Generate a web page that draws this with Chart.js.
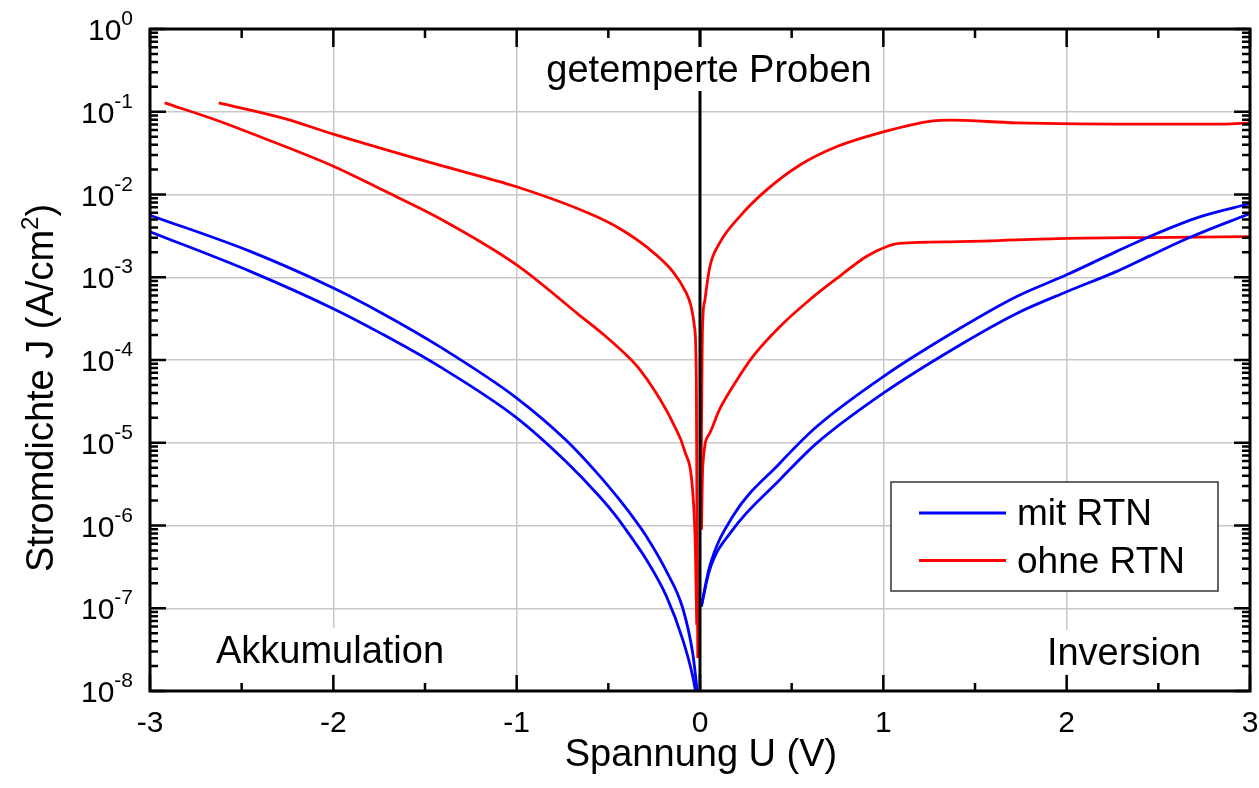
<!DOCTYPE html>
<html><head><meta charset="utf-8">
<script src="https://cdn.jsdelivr.net/npm/chart.js@4.4.1/dist/chart.umd.min.js"></script>
<style>html,body{margin:0;padding:0;background:#fff}canvas{display:block}</style>
</head><body>
<canvas id="c" width="1259" height="788" style="width:1259px;height:788px"></canvas>
<script>
// ---------- data (Spannung U in V, Stromdichte J in A/cm^2) ----------
const seriesNames = ['mit RTN', 'ohne RTN'];
const seriesColors = ['#0000ff', '#ff0000'];

// mit RTN, sample A (upper blue)
const uMitA_neg = [-3, -2.45, -2, -1.73, -1.42, -1, -0.73, -0.548, -0.457, -0.366, -0.293, -0.184, -0.094, -0.039, -0.015];
const jMitA_neg = [5.62e-3, 2.04e-3, 7.41e-4, 3.63e-4, 1.45e-4, 3.47e-5, 1.07e-5, 3.98e-6, 2.29e-6, 1.26e-6, 7.41e-7, 2.82e-7, 1.0e-7, 2.8e-8, 1.0e-8];
const uMitA_pos = [0.007, 0.052, 0.179, 0.434, 0.634, 1, 1.416, 1.725, 2, 2.27, 2.45, 2.725, 3];
const jMitA_pos = [1.05e-7, 3.16e-7, 1.29e-6, 5.62e-6, 1.55e-5, 6.31e-5, 2.40e-4, 5.82e-4, 1.07e-3, 2.04e-3, 3.09e-3, 5.37e-3, 7.76e-3];

// mit RTN, sample B (lower blue)
const uMitB_neg = [-3, -2.45, -2, -1.73, -1.42, -1, -0.73, -0.548, -0.457, -0.366, -0.293, -0.184, -0.094, -0.039, -0.025];
const jMitB_neg = [3.55e-3, 1.17e-3, 4.17e-4, 2.04e-4, 8.32e-5, 2.0e-5, 5.89e-6, 2.24e-6, 1.29e-6, 6.76e-7, 3.89e-7, 1.41e-7, 4.17e-8, 1.48e-8, 1.0e-8];
const uMitB_pos = [0.007, 0.052, 0.179, 0.434, 0.634, 1, 1.416, 1.725, 2, 2.27, 2.45, 2.67, 3];
const jMitB_pos = [1.05e-7, 2.88e-7, 8.91e-7, 3.55e-6, 9.77e-6, 3.98e-5, 1.51e-4, 3.63e-4, 6.68e-4, 1.17e-3, 1.80e-3, 3.02e-3, 5.89e-3];

// ohne RTN, sample A (upper red)
const uOhneA_neg = [-2.625, -2.27, -2, -1.42, -1, -0.603, -0.439, -0.293, -0.148, -0.075, -0.03, -0.02, -0.016, -0.012];
const jOhneA_neg = [0.128, 0.0832, 0.0537, 0.0226, 0.0124, 5.89e-3, 3.89e-3, 2.34e-3, 1.17e-3, 6.46e-4, 2.51e-4, 5.75e-5, 5.62e-7, 2.5e-8];
const uOhneA_pos = [0.004, 0.012, 0.016, 0.027, 0.054, 0.106, 0.215, 0.36, 0.543, 0.725, 1, 1.27, 1.36, 1.725, 2.5, 2.85, 3];
const jOhneA_pos = [1.0e-6, 1.5e-4, 3.31e-4, 5.37e-4, 1.35e-3, 2.57e-3, 5.37e-3, 0.0112, 0.0226, 0.0363, 0.0571, 0.0776, 0.0794, 0.0735, 0.0710, 0.0710, 0.0735];

// ohne RTN, sample B (lower red)
const uOhneB_neg = [-2.92, -2.64, -2.45, -2, -1.73, -1.42, -1, -0.657, -0.512, -0.384, -0.33, -0.239, -0.148, -0.085, -0.039, -0.025, -0.018];
const jOhneB_neg = [0.128, 0.0794, 0.055, 0.022, 0.0113, 5.13e-3, 1.41e-3, 3.47e-4, 1.91e-4, 1.05e-4, 7.76e-5, 3.98e-5, 1.74e-5, 8.13e-6, 2.45e-6, 5.13e-7, 6.3e-8];
const uOhneB_pos = [0.008, 0.015, 0.052, 0.106, 0.179, 0.288, 0.434, 0.597, 0.76, 0.907, 1.016, 1.088, 1.416, 2, 2.45, 3];
const jOhneB_pos = [8.9e-7, 5.13e-6, 1.29e-5, 2.51e-5, 4.79e-5, 1.10e-4, 2.51e-4, 5.31e-4, 1.02e-3, 1.78e-3, 2.34e-3, 2.57e-3, 2.69e-3, 2.95e-3, 3.02e-3, 3.09e-3];

// vertical marker at U = 0
const uZeroLine = [0, 0];
const jZeroLine = [1e-8, 1];

// axes
const xTickValues = [-3, -2, -1, 0, 1, 2, 3];
const xTickLabels = ['-3', '-2', '-1', '0', '1', '2', '3'];
const xMinorValues = [-2.5, -1.5, -0.5, 0.5, 1.5, 2.5];
const yTickExponents = [0, -1, -2, -3, -4, -5, -6, -7, -8];
const xTitle = 'Spannung U (V)';
const yTitleMain = 'Stromdichte J (A/cm';
const yTitleSup = '2';
const yTitleEnd = ')';
const annTop = 'getemperte Proben';
const annLeft = 'Akkumulation';
const annRight = 'Inversion';

// ---------- chart ----------
const FONT = '"Liberation Sans", Arial, Helvetica, sans-serif';
const pts = (u, j) => u.map((x, i) => ({x: x, y: j[i]}));
const yDecades = yTickExponents.map(e => Math.pow(10, e));

function lineDs(label, u, j, color, w) {
  return {label: label, data: pts(u, j), borderColor: color, backgroundColor: color,
          borderWidth: w, pointRadius: 0, fill: false, cubicInterpolationMode: 'monotone'};
}

const LW = 2.8;
const datasets = [
  lineDs('U = 0', uZeroLine, jZeroLine, '#000000', 3),
  lineDs(seriesNames[0], uMitA_neg, jMitA_neg, seriesColors[0], LW),
  lineDs(seriesNames[0], uMitA_pos, jMitA_pos, seriesColors[0], LW),
  lineDs(seriesNames[0], uMitB_neg, jMitB_neg, seriesColors[0], LW),
  lineDs(seriesNames[0], uMitB_pos, jMitB_pos, seriesColors[0], LW),
  lineDs(seriesNames[1], uOhneA_neg, jOhneA_neg, seriesColors[1], LW),
  lineDs(seriesNames[1], uOhneA_pos, jOhneA_pos, seriesColors[1], LW),
  lineDs(seriesNames[1], uOhneB_neg, jOhneB_neg, seriesColors[1], LW),
  lineDs(seriesNames[1], uOhneB_pos, jOhneB_pos, seriesColors[1], LW)
];

function boxedText(ctx, text, cx, base, padTop, padBottom) {
  const w = ctx.measureText(text).width;
  ctx.fillStyle = '#ffffff';
  ctx.fillRect(cx - w / 2 - 6, base - padTop, w + 12, padTop + padBottom);
  ctx.fillStyle = '#000000';
  ctx.fillText(text, cx - w / 2, base);
}

const deco = {
  id: 'deco',
  afterDatasetsDraw(chart) {
    const ctx = chart.ctx, a = chart.chartArea;
    ctx.save();
    ctx.textBaseline = 'alphabetic';
    ctx.textAlign = 'left';
    ctx.font = '38px ' + FONT;
    boxedText(ctx, annTop, a.left + 559, a.top + 53, 35, 9);
    boxedText(ctx, annLeft, a.left + 180, a.top + 634, 35, 11);
    boxedText(ctx, annRight, a.left + 974, a.top + 636, 35, 9);

    // legend
    const lx = a.left + 741, ly = a.top + 453, lw = 327, lh = 109;
    ctx.fillStyle = '#ffffff';
    ctx.fillRect(lx, ly, lw, lh);
    ctx.strokeStyle = '#333333';
    ctx.lineWidth = 1.5;
    ctx.strokeRect(lx, ly, lw, lh);
    ctx.font = '37px ' + FONT;
    seriesNames.forEach((name, i) => {
      const yy = ly + 31 + i * 47.5;
      ctx.strokeStyle = seriesColors[i];
      ctx.lineWidth = 3;
      ctx.beginPath();
      ctx.moveTo(lx + 28, yy);
      ctx.lineTo(lx + 115, yy);
      ctx.stroke();
      ctx.fillStyle = '#000000';
      ctx.fillText(name, lx + 126, yy + 12);
    });
    ctx.restore();
  },
  afterDraw(chart) {
    const ctx = chart.ctx, a = chart.chartArea;
    const xs = chart.scales.x, ys = chart.scales.y;
    ctx.save();
    ctx.strokeStyle = '#000000';
    ctx.lineCap = 'butt';
    // y ticks (inside, left & right)
    ctx.lineWidth = 2.5;
    yTickExponents.forEach(e => {
      const py = ys.getPixelForValue(Math.pow(10, e));
      ctx.beginPath();
      ctx.moveTo(a.left, py); ctx.lineTo(a.left + 16, py);
      ctx.moveTo(a.right, py); ctx.lineTo(a.right - 16, py);
      ctx.stroke();
      if (e > -8) {
        for (let m = 2; m <= 9; m++) {
          const pm = ys.getPixelForValue(m * Math.pow(10, e - 1));
          ctx.beginPath();
          ctx.moveTo(a.left, pm); ctx.lineTo(a.left + 8, pm);
          ctx.moveTo(a.right, pm); ctx.lineTo(a.right - 8, pm);
          ctx.stroke();
        }
      }
    });
    // x ticks (inside, top & bottom)
    xTickValues.forEach(v => {
      const px = xs.getPixelForValue(v);
      ctx.beginPath();
      ctx.moveTo(px, a.bottom); ctx.lineTo(px, a.bottom - 16);
      ctx.moveTo(px, a.top); ctx.lineTo(px, a.top + 18);
      ctx.stroke();
    });
    xMinorValues.forEach(v => {
      const px = xs.getPixelForValue(v);
      ctx.beginPath();
      ctx.moveTo(px, a.bottom); ctx.lineTo(px, a.bottom - 8);
      ctx.moveTo(px, a.top); ctx.lineTo(px, a.top + 9);
      ctx.stroke();
    });
    // frame
    ctx.lineWidth = 3;
    ctx.strokeRect(a.left, a.top, a.right - a.left, a.bottom - a.top);

    ctx.fillStyle = '#000000';
    ctx.textBaseline = 'alphabetic';
    // x tick labels
    ctx.font = '30px ' + FONT;
    ctx.textAlign = 'center';
    xTickValues.forEach((v, i) => {
      ctx.fillText(xTickLabels[i], xs.getPixelForValue(v), a.bottom + 41);
    });
    // y tick labels: 10^e
    ctx.textAlign = 'left';
    yTickExponents.forEach(e => {
      const py = ys.getPixelForValue(Math.pow(10, e));
      ctx.font = '21px ' + FONT;
      const es = String(e);
      const we = ctx.measureText(es).width;
      ctx.font = '30px ' + FONT;
      const wb = ctx.measureText('10').width;
      const right = a.left - 17;
      ctx.fillText('10', right - we - wb, py + 11);
      ctx.font = '21px ' + FONT;
      ctx.fillText(es, right - we, py - 4);
    });
    // x title
    ctx.font = '38px ' + FONT;
    ctx.textAlign = 'center';
    ctx.fillText(xTitle, (a.left + a.right) / 2 + 1, a.bottom + 75);
    // y title (rotated, with superscript)
    ctx.textAlign = 'left';
    ctx.translate(a.left - 97, (a.top + a.bottom) / 2 + 28);
    ctx.rotate(-Math.PI / 2);
    ctx.font = '38px ' + FONT;
    const w1 = ctx.measureText(yTitleMain).width;
    const w3 = ctx.measureText(yTitleEnd).width;
    ctx.font = '24px ' + FONT;
    const w2 = ctx.measureText(yTitleSup).width;
    const tot = w1 + w2 + w3;
    let x0 = -tot / 2;
    ctx.font = '38px ' + FONT;
    ctx.fillText(yTitleMain, x0, 0);
    ctx.font = '24px ' + FONT;
    ctx.fillText(yTitleSup, x0 + w1, -15);
    ctx.font = '38px ' + FONT;
    ctx.fillText(yTitleEnd, x0 + w1 + w2, 0);
    ctx.restore();
  }
};

new Chart(document.getElementById('c'), {
  type: 'line',
  data: {datasets: datasets},
  options: {
    responsive: false,
    animation: false,
    devicePixelRatio: 1,
    layout: {padding: {left: 150, right: 9, top: 29, bottom: 97}},
    plugins: {legend: {display: false}, tooltip: {enabled: false}},
    scales: {
      x: {
        type: 'linear', min: -3, max: 3,
        ticks: {display: false, stepSize: 1},
        afterBuildTicks: s => { s.ticks = xTickValues.map(v => ({value: v})); },
        grid: {color: '#c8c8c8', lineWidth: 1.5, drawTicks: false},
        border: {display: false}
      },
      y: {
        type: 'logarithmic', min: 1e-8, max: 1,
        ticks: {display: false},
        afterBuildTicks: s => { s.ticks = yDecades.map(v => ({value: v})); },
        grid: {color: '#c8c8c8', lineWidth: 1.5, drawTicks: false},
        border: {display: false}
      }
    }
  },
  plugins: [deco]
});
</script>
</body></html>
